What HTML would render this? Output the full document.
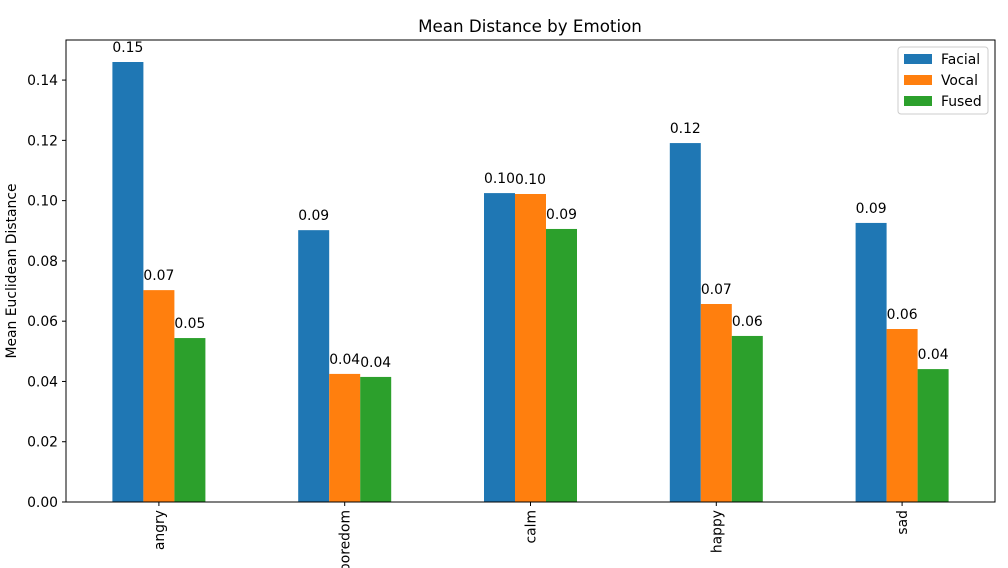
<!DOCTYPE html>
<html><head><meta charset="utf-8"><style>
html,body{margin:0;padding:0;background:#fff;}
svg{display:block;font-family:"DejaVu Sans","Liberation Sans",sans-serif;}
</style></head><body>
<svg id="chart" width="1008" height="568" viewBox="0 0 1008 568"></svg>
<script>
const categories = ["angry","boredom","calm","happy","sad"];
const facial = [0.146,0.0902,0.1025,0.1191,0.0926];
const vocal = [0.0703,0.0425,0.1022,0.0657,0.0574];
const fused = [0.0544,0.0415,0.0906,0.0551,0.0441];
const yTicks = [0,0.02,0.04,0.06,0.08,0.10,0.12,0.14];
const seriesNames = ["Facial","Vocal","Fused"];
const colors = ["#1f77b4","#ff7f0e","#2ca02c"];

const svg = document.getElementById('chart');
const NS = "http://www.w3.org/2000/svg";
const L=66,R=995,T=40,B=502;
const yMax=0.1533;
function y(v){return B-(v/yMax)*(B-T);}
const step=(R-L)/categories.length;
function xc(i){return L+step*(i+0.5);}
const bw=31;
const fs=13.9;
function mk(tag,attrs,txt){const e=document.createElementNS(NS,tag);for(const k in attrs)e.setAttribute(k,attrs[k]);if(txt!==undefined)e.textContent=txt;svg.appendChild(e);return e;}

let t=mk('text',{x:530,y:32,'font-size':16.7,'text-anchor':'middle',fill:'#000'},'Mean Distance by Emotion');



yTicks.forEach(v=>{
  const l=mk('line',{x1:L-4,x2:L,y1:y(v),y2:y(v),stroke:'#000','stroke-width':1});
  
  
  const tx=mk('text',{x:L-8,y:y(v)+5,'font-size':fs,'text-anchor':'end',fill:'#000'},v.toFixed(2));
  
  
});
t=mk('text',{transform:'translate(16,271) rotate(-90)','font-size':fs,'text-anchor':'middle',fill:'#000'},'Mean Euclidean Distance');



const series=[facial,vocal,fused];
categories.forEach((c,i)=>{
  series.forEach((s,j)=>{
    const x0=xc(i)+(j-1.5)*bw;
    const r=mk('rect',{x:x0,y:y(s[i]),width:bw,height:B-y(s[i]),fill:colors[j]});
    
    
    const lb=mk('text',{x:x0+bw/2,y:y(s[i])-10,'font-size':fs,'text-anchor':'middle',fill:'#000'},s[i].toFixed(2));
    
    
  });
  const tk=mk('line',{x1:xc(i),x2:xc(i),y1:B,y2:B+4,stroke:'#000','stroke-width':1});
  
  
  const tl=mk('text',{transform:'translate('+(xc(i)+5)+','+(B+8)+') rotate(-90)','font-size':fs,'text-anchor':'end',fill:'#000'},c);
  
  
});

const fr=mk('rect',{x:L,y:T,width:R-L,height:B-T,fill:'none',stroke:'#000','stroke-width':1});



const lg=mk('rect',{x:898,y:47,width:90,height:67,fill:'#fff',stroke:'#ccc','stroke-width':1,rx:3});


seriesNames.forEach((n,j)=>{
  const sw=mk('rect',{x:904,y:54+j*21,width:28,height:10,fill:colors[j]});
  
  
  const lt=mk('text',{x:941,y:64+j*21,'font-size':fs,fill:'#000'},n);
  
  
});
</script>
</body></html>
